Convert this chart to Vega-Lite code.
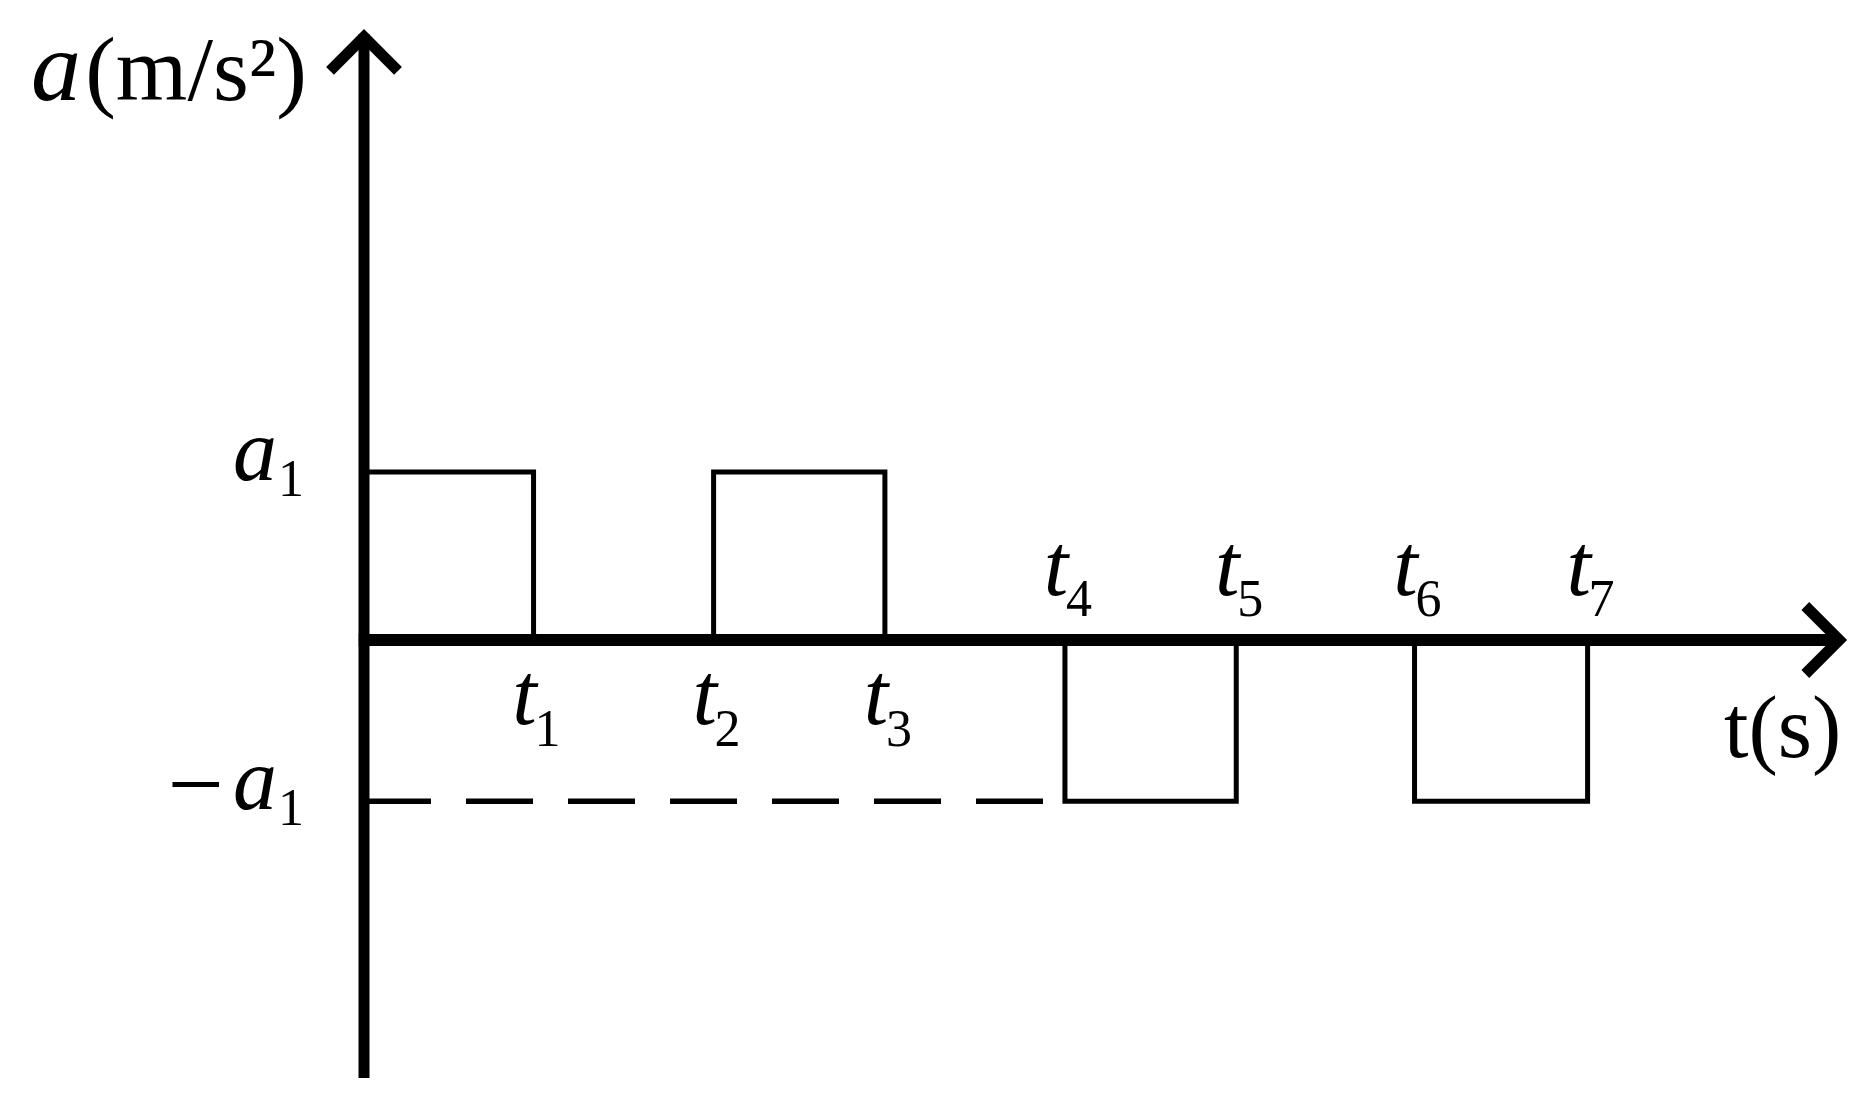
{
  "$schema": "https://vega.github.io/schema/vega-lite/v6.json",
  "width": 1871,
  "height": 1100,
  "autosize": {"type": "none"},
  "padding": 0,
  "background": "white",
  "config": {"view": {"stroke": null}},
  "data": {"values": [{}]},
  "datasets": {
    "boxes": [
      {"start": 0, "end": 0.97, "a": 1},
      {"start": 2.0, "end": 2.98, "a": 1},
      {"start": 4.01, "end": 4.99, "a": -0.96},
      {"start": 6.01, "end": 7.0, "a": -0.96}
    ],
    "tlabels": [
      {"t": 0.97, "n": "1", "pos": "below"},
      {"t": 2.0, "n": "2", "pos": "below"},
      {"t": 2.98, "n": "3", "pos": "below"},
      {"t": 4.01, "n": "4", "pos": "above"},
      {"t": 4.99, "n": "5", "pos": "above"},
      {"t": 6.01, "n": "6", "pos": "above"},
      {"t": 7.0, "n": "7", "pos": "above"}
    ],
    "alabels": [
      {"a": 1, "neg": false},
      {"a": -0.96, "neg": true}
    ]
  },
  "layer": [
    {
      "mark": {"type": "rule", "color": "black", "strokeWidth": 5.5, "strokeDash": [67, 35], "strokeCap": "butt"},
      "encoding": {
        "x": {"datum": 0, "type": "quantitative", "scale": {"domain": [-2.0824, 8.6213], "nice": false, "zero": false}, "axis": null},
        "x2": {"datum": 3.885},
        "y": {"datum": -0.96, "type": "quantitative", "scale": {"domain": [-2.7381, 3.8095], "nice": false, "zero": false}, "axis": null}
      }
    },
    {
      "data": {"name": "boxes"},
      "mark": {"type": "rect", "filled": false, "color": "black", "stroke": "black", "strokeWidth": 5, "strokeJoin": "miter", "opacity": 1},
      "encoding": {
        "x": {"field": "start", "type": "quantitative", "scale": {"domain": [-2.0824, 8.6213], "nice": false, "zero": false}, "axis": null},
        "x2": {"field": "end"},
        "y": {"field": "a", "type": "quantitative", "scale": {"domain": [-2.7381, 3.8095], "nice": false, "zero": false}, "axis": null},
        "y2": {"datum": 0}
      }
    },
    {
      "mark": {"type": "rule", "color": "black", "strokeWidth": 11, "strokeCap": "butt"},
      "encoding": {
        "x": {"datum": 0, "type": "quantitative", "scale": {"domain": [-2.0824, 8.6213], "nice": false, "zero": false}, "axis": null},
        "y": {"datum": -2.607, "type": "quantitative", "scale": {"domain": [-2.7381, 3.8095], "nice": false, "zero": false}, "axis": null},
        "y2": {"datum": 3.607}
      }
    },
    {
      "mark": {"type": "rule", "color": "black", "strokeWidth": 12, "strokeCap": "butt"},
      "encoding": {
        "x": {"datum": -0.03, "type": "quantitative", "scale": {"domain": [-2.0824, 8.6213], "nice": false, "zero": false}, "axis": null},
        "x2": {"datum": 8.44},
        "y": {"datum": 0, "type": "quantitative", "scale": {"domain": [-2.7381, 3.8095], "nice": false, "zero": false}, "axis": null}
      }
    },
    {
      "mark": {"type": "point", "shape": "M-1,1L0,0L1,1", "size": 4624, "filled": false, "color": "black", "stroke": "black", "strokeWidth": 11, "strokeJoin": "miter", "strokeCap": "butt", "opacity": 1},
      "encoding": {
        "x": {"datum": 0, "type": "quantitative", "scale": {"domain": [-2.0824, 8.6213], "nice": false, "zero": false}, "axis": null},
        "y": {"datum": 3.59, "type": "quantitative", "scale": {"domain": [-2.7381, 3.8095], "nice": false, "zero": false}, "axis": null}
      }
    },
    {
      "mark": {"type": "point", "shape": "M-1,-1L0,0L-1,1", "size": 4624, "filled": false, "color": "black", "stroke": "black", "strokeWidth": 11, "strokeJoin": "miter", "strokeCap": "butt", "opacity": 1},
      "encoding": {
        "x": {"datum": 8.44, "type": "quantitative", "scale": {"domain": [-2.0824, 8.6213], "nice": false, "zero": false}, "axis": null},
        "y": {"datum": 0, "type": "quantitative", "scale": {"domain": [-2.7381, 3.8095], "nice": false, "zero": false}, "axis": null}
      }
    },
    {
      "mark": {"type": "text", "text": "a", "font": "Liberation Serif", "fontStyle": "italic", "fontSize": 100, "align": "right", "baseline": "alphabetic", "dx": -283, "dy": 66, "color": "black"},
      "encoding": {
        "x": {"datum": 0, "type": "quantitative", "scale": {"domain": [-2.0824, 8.6213], "nice": false, "zero": false}, "axis": null},
        "y": {"datum": 3.607, "type": "quantitative", "scale": {"domain": [-2.7381, 3.8095], "nice": false, "zero": false}, "axis": null}
      }
    },
    {
      "mark": {"type": "text", "text": "(m/s²)", "font": "Liberation Serif", "fontSize": 92, "align": "right", "baseline": "alphabetic", "dx": -57, "dy": 66, "color": "black"},
      "encoding": {
        "x": {"datum": 0, "type": "quantitative", "scale": {"domain": [-2.0824, 8.6213], "nice": false, "zero": false}, "axis": null},
        "y": {"datum": 3.607, "type": "quantitative", "scale": {"domain": [-2.7381, 3.8095], "nice": false, "zero": false}, "axis": null}
      }
    },
    {
      "mark": {"type": "text", "text": "t(s)", "font": "Liberation Serif", "fontSize": 88, "align": "right", "baseline": "alphabetic", "dx": 2, "dy": 117, "color": "black"},
      "encoding": {
        "x": {"datum": 8.44, "type": "quantitative", "scale": {"domain": [-2.0824, 8.6213], "nice": false, "zero": false}, "axis": null},
        "y": {"datum": 0, "type": "quantitative", "scale": {"domain": [-2.7381, 3.8095], "nice": false, "zero": false}, "axis": null}
      }
    },
    {
      "data": {"name": "tlabels"},
      "transform": [{"filter": "datum.pos == 'below'"}],
      "mark": {"type": "text", "text": "t", "font": "Liberation Serif", "fontStyle": "italic", "fontSize": 88, "align": "center", "baseline": "alphabetic", "dx": -9, "dy": 84, "color": "black"},
      "encoding": {
        "x": {"field": "t", "type": "quantitative", "scale": {"domain": [-2.0824, 8.6213], "nice": false, "zero": false}, "axis": null},
        "y": {"datum": 0, "type": "quantitative", "scale": {"domain": [-2.7381, 3.8095], "nice": false, "zero": false}, "axis": null}
      }
    },
    {
      "data": {"name": "tlabels"},
      "transform": [{"filter": "datum.pos == 'below'"}],
      "mark": {"type": "text", "font": "Liberation Serif", "fontSize": 52, "align": "left", "baseline": "alphabetic", "dx": 1, "dy": 106, "color": "black"},
      "encoding": {
        "x": {"field": "t", "type": "quantitative", "scale": {"domain": [-2.0824, 8.6213], "nice": false, "zero": false}, "axis": null},
        "y": {"datum": 0, "type": "quantitative", "scale": {"domain": [-2.7381, 3.8095], "nice": false, "zero": false}, "axis": null},
        "text": {"field": "n"}
      }
    },
    {
      "data": {"name": "tlabels"},
      "transform": [{"filter": "datum.pos == 'above'"}],
      "mark": {"type": "text", "text": "t", "font": "Liberation Serif", "fontStyle": "italic", "fontSize": 88, "align": "center", "baseline": "alphabetic", "dx": -9, "dy": -45, "color": "black"},
      "encoding": {
        "x": {"field": "t", "type": "quantitative", "scale": {"domain": [-2.0824, 8.6213], "nice": false, "zero": false}, "axis": null},
        "y": {"datum": 0, "type": "quantitative", "scale": {"domain": [-2.7381, 3.8095], "nice": false, "zero": false}, "axis": null}
      }
    },
    {
      "data": {"name": "tlabels"},
      "transform": [{"filter": "datum.pos == 'above'"}],
      "mark": {"type": "text", "font": "Liberation Serif", "fontSize": 52, "align": "left", "baseline": "alphabetic", "dx": 1, "dy": -24, "color": "black"},
      "encoding": {
        "x": {"field": "t", "type": "quantitative", "scale": {"domain": [-2.0824, 8.6213], "nice": false, "zero": false}, "axis": null},
        "y": {"datum": 0, "type": "quantitative", "scale": {"domain": [-2.7381, 3.8095], "nice": false, "zero": false}, "axis": null},
        "text": {"field": "n"}
      }
    },
    {
      "data": {"name": "alabels"},
      "mark": {"type": "text", "text": "a", "font": "Liberation Serif", "fontStyle": "italic", "fontSize": 88, "align": "right", "baseline": "alphabetic", "dx": -87, "dy": 8, "color": "black"},
      "encoding": {
        "x": {"datum": 0, "type": "quantitative", "scale": {"domain": [-2.0824, 8.6213], "nice": false, "zero": false}, "axis": null},
        "y": {"field": "a", "type": "quantitative", "scale": {"domain": [-2.7381, 3.8095], "nice": false, "zero": false}, "axis": null}
      }
    },
    {
      "data": {"name": "alabels"},
      "mark": {"type": "text", "text": "1", "font": "Liberation Serif", "fontSize": 52, "align": "left", "baseline": "alphabetic", "dx": -86, "dy": 24, "color": "black"},
      "encoding": {
        "x": {"datum": 0, "type": "quantitative", "scale": {"domain": [-2.0824, 8.6213], "nice": false, "zero": false}, "axis": null},
        "y": {"field": "a", "type": "quantitative", "scale": {"domain": [-2.7381, 3.8095], "nice": false, "zero": false}, "axis": null}
      }
    },
    {
      "data": {"name": "alabels"},
      "transform": [{"filter": "datum.neg"}],
      "mark": {"type": "text", "text": "−", "font": "Liberation Serif", "fontSize": 100, "align": "right", "baseline": "alphabetic", "dx": -140, "dy": 17, "color": "black"},
      "encoding": {
        "x": {"datum": 0, "type": "quantitative", "scale": {"domain": [-2.0824, 8.6213], "nice": false, "zero": false}, "axis": null},
        "y": {"field": "a", "type": "quantitative", "scale": {"domain": [-2.7381, 3.8095], "nice": false, "zero": false}, "axis": null}
      }
    }
  ]
}
